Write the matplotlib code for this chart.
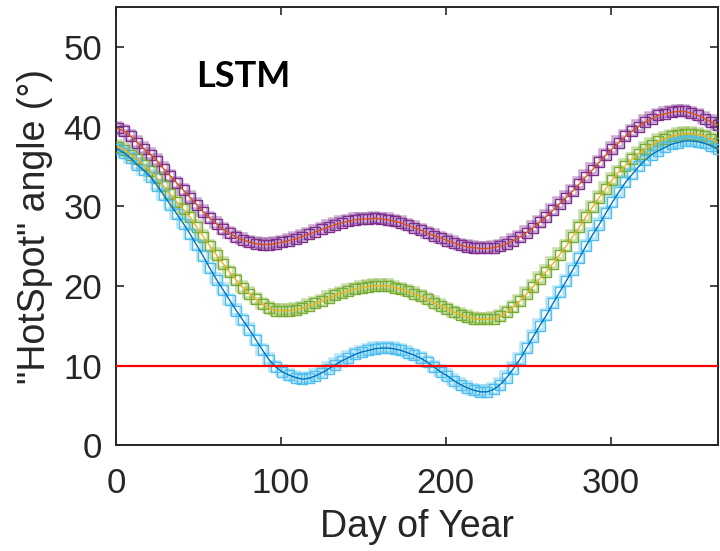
import numpy as np
import matplotlib
matplotlib.use("Agg")
import matplotlib.pyplot as plt
import matplotlib.transforms as mtransforms

# day of year for every sample
days = list(range(1, 366, 4))

# upper series (purple markers, orange line)
hot_a = [39.8, 39.4, 38.8, 38.0, 37.2, 36.5, 35.7, 34.7, 33.8, 32.9,
         32.0, 31.1, 30.2, 29.3, 28.5, 27.8, 27.1, 26.6, 26.1, 25.8,
         25.5, 25.3, 25.2, 25.2, 25.3, 25.5, 25.7, 25.9, 26.2, 26.5,
         26.8, 27.1, 27.4, 27.7, 27.9, 28.1, 28.3, 28.4, 28.4, 28.5,
         28.4, 28.3, 28.1, 27.9, 27.6, 27.3, 27.0, 26.6, 26.3, 26.0,
         25.7, 25.4, 25.1, 24.9, 24.8, 24.7, 24.7, 24.8, 25.0, 25.3,
         25.7, 26.1, 26.7, 27.3, 28.0, 28.7, 29.5, 30.3, 31.1, 31.9,
         32.8, 33.7, 34.6, 35.5, 36.4, 37.2, 38.0, 38.8, 39.4, 40.0,
         40.6, 41.0, 41.4, 41.6, 41.8, 41.9, 41.9, 41.7, 41.4, 41.0,
         40.6, 40.2]

# middle series (green markers, yellow line)
hot_b = [37.5, 37.1, 36.5, 35.9, 35.2, 34.4, 33.5, 32.5, 31.5, 30.5,
         29.6, 28.6, 27.4, 26.2, 25.0, 23.9, 22.8, 21.7, 20.7, 19.8,
         19.0, 18.3, 17.7, 17.2, 16.9, 16.9, 16.9, 17.0, 17.2, 17.5,
         17.8, 18.1, 18.5, 18.8, 19.1, 19.4, 19.6, 19.8, 19.9, 20.0,
         20.0, 20.0, 19.8, 19.6, 19.3, 19.0, 18.7, 18.3, 17.9, 17.5,
         17.1, 16.7, 16.4, 16.1, 15.9, 15.8, 15.8, 15.9, 16.2, 16.7,
         17.3, 18.1, 19.0, 19.9, 20.9, 21.8, 22.8, 23.9, 25.0, 26.2,
         27.4, 28.7, 29.9, 31.1, 32.2, 33.3, 34.3, 35.1, 35.9, 36.6,
         37.2, 37.7, 38.2, 38.5, 38.8, 39.0, 39.1, 39.1, 39.0, 38.8,
         38.4, 38.0]

# lower series (cyan markers, blue line)
hot_c = [37.2, 36.7, 36.0, 35.2, 34.5, 33.7, 32.6, 31.4, 30.2, 29.0,
         27.8, 26.5, 25.1, 23.7, 22.2, 20.8, 19.5, 18.2, 16.9, 15.7,
         14.5, 13.2, 11.9, 10.7, 9.8, 9.2, 8.8, 8.5, 8.3, 8.4,
         8.7, 9.1, 9.6, 10.1, 10.6, 11.0, 11.4, 11.7, 11.9, 12.1,
         12.2, 12.2, 12.1, 11.9, 11.6, 11.3, 10.9, 10.4, 9.8, 9.2,
         8.7, 8.1, 7.6, 7.2, 6.9, 6.7, 6.7, 7.0, 7.6, 8.5,
         9.6, 10.8, 12.2, 13.6, 15.0, 16.3, 17.8, 19.2, 20.6, 22.0,
         23.5, 25.0, 26.4, 27.7, 29.1, 30.5, 31.8, 33.0, 34.0, 35.0,
         35.8, 36.5, 37.0, 37.4, 37.8, 38.0, 38.2, 38.2, 38.1, 37.9,
         37.6, 37.2]

threshold = 10

plt.rcParams['font.family'] = ['Liberation Sans', 'DejaVu Sans']

fig = plt.figure(figsize=(7.2, 5.51), dpi=100)
ax = fig.add_axes([0.161, 0.192, 0.836, 0.795])

shifted = mtransforms.offset_copy(ax.transData, fig=fig, x=-1.5, y=1.5, units='dots')

series = [
    (hot_a, '#7E2F8E', '#D95319'),
    (hot_b, '#77AC30', '#EDB120'),
    (hot_c, '#4DBEEE', '#0072BD'),
]
for vals, mcol, lcol in series:
    # faint marker layer
    ax.plot(days, vals, ls='none', marker='s', ms=7.5, mfc='none', mec=mcol,
            mew=1.8, alpha=0.4, transform=shifted, zorder=2)
    # crisp marker layer
    ax.plot(days, vals, ls='none', marker='s', ms=7.5, mfc='none', mec=mcol,
            mew=1.0, zorder=3)
    ax.plot(days, vals, color=lcol, lw=1.0, zorder=4)

ax.axhline(threshold, color='#FF0000', lw=1.6, zorder=5)

ax.set_xlim(0, 365)
ax.set_ylim(0, 55)
ax.set_xticks([0, 100, 200, 300])
ax.set_yticks([0, 10, 20, 30, 40, 50])
ax.tick_params(direction='in', length=6, width=1.2, top=True, right=True,
               labelsize=25, colors='#262626')
ax.tick_params(axis='x', pad=16)
ax.tick_params(axis='y', pad=10)
for s in ax.spines.values():
    s.set_linewidth(1.4)
    s.set_color('#262626')

ax.set_xlabel('Day of Year', fontsize=27, color='#262626', va='center')
ax.set_ylabel('"HotSpot" angle (°)', fontsize=27, color='#262626', va='center')
ax.xaxis.set_label_coords(0.5, -0.187)
ax.yaxis.set_label_coords(-0.135, 0.5)

ax.text(0.211, 0.842, 'LSTM', transform=ax.transAxes, fontsize=26,
        fontweight='bold', family=['Lato', 'DejaVu Sans'], color='black',
        va='center', ha='center')

fig.savefig('out.png', dpi=100)
